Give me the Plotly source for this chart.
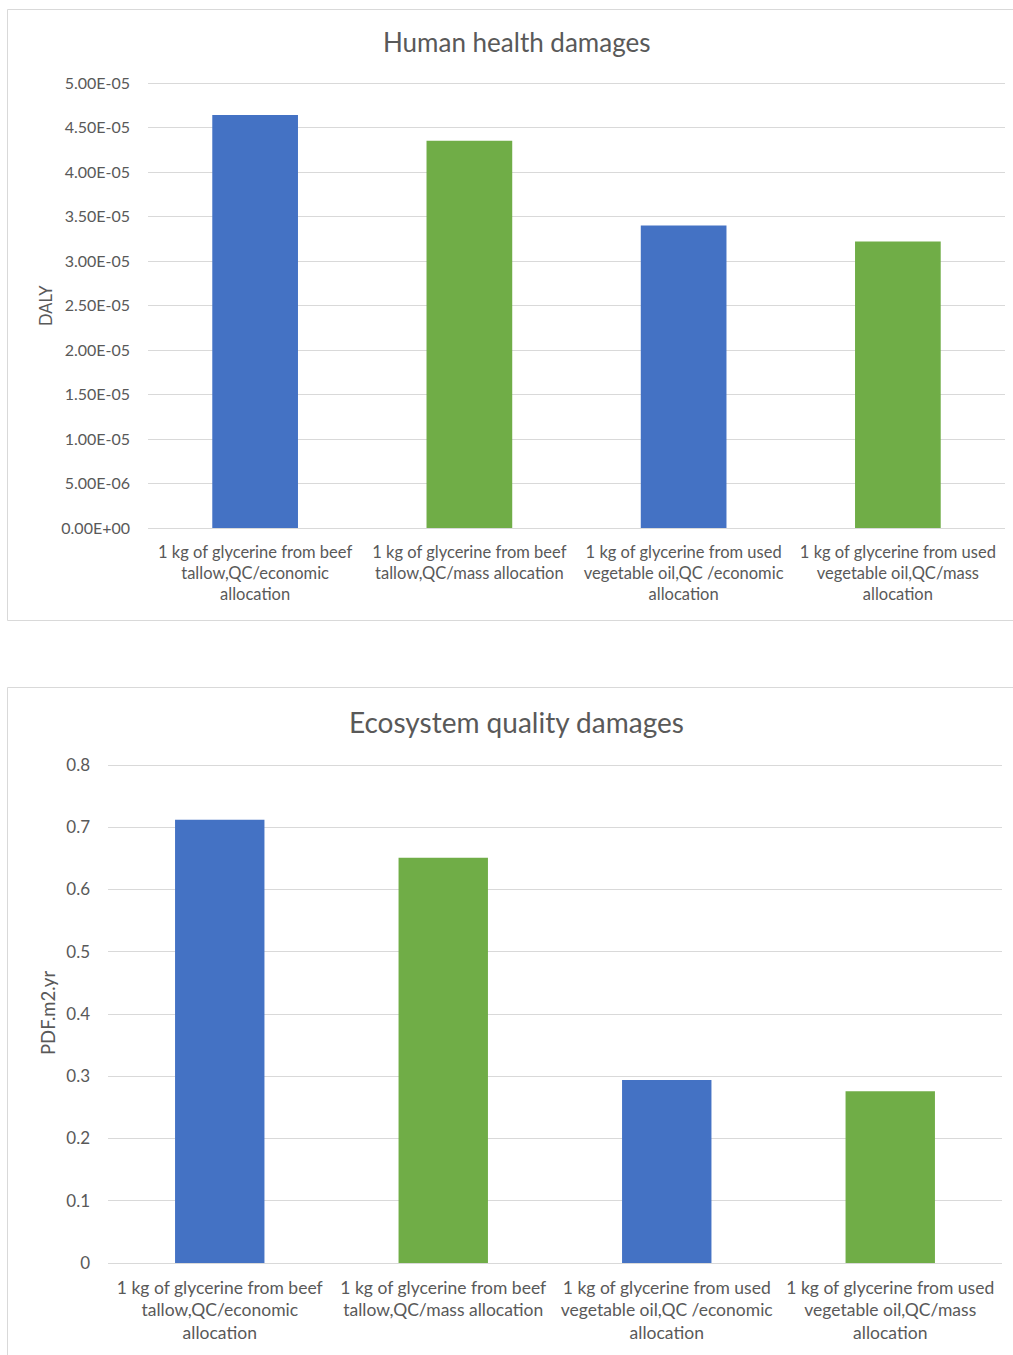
import plotly.graph_objects as go

# Categories (processes compared)
categories = [
    "1 kg of glycerine from beef<br>tallow,QC/economic<br>allocation",
    "1 kg of glycerine from beef<br>tallow,QC/mass allocation",
    "1 kg of glycerine from used<br>vegetable oil,QC /economic<br>allocation",
    "1 kg of glycerine from used<br>vegetable oil,QC/mass<br>allocation",
]
bar_colors = ["#4472C4", "#70AD47", "#4472C4", "#70AD47"]

# Human health damages (DALY)
human_health = [4.64e-05, 4.35e-05, 3.40e-05, 3.22e-05]
hh_ticks = [0, 5e-06, 1e-05, 1.5e-05, 2e-05, 2.5e-05, 3e-05, 3.5e-05, 4e-05, 4.5e-05, 5e-05]

# Ecosystem quality damages (PDF.m2.yr)
ecosystem = [0.712, 0.651, 0.294, 0.276]
eq_ticks = [0, 0.1, 0.2, 0.3, 0.4, 0.5, 0.6, 0.7, 0.8]

W, H = 1013, 1355
TXT = "#595959"
GRID = "#d9d9d9"
FONT = "Lato, 'Open Sans', sans-serif"
HEAD = 1.01  # headroom above the last tick so its gridline is drawn


def fx(x):
    return x / W


def fy(y):
    return 1 - y / H


# pixel rows of the zero line and of the top tick for each chart
hh_zero, hh_last = 528, 83
eq_zero, eq_last = 1263, 765
hh_dom_top = hh_zero - (hh_zero - hh_last) * HEAD
eq_dom_top = eq_zero - (eq_zero - eq_last) * HEAD

fig = go.Figure()

fig.add_trace(go.Bar(
    x=[0, 1, 2, 3], y=human_health, marker=dict(color=bar_colors, line=dict(width=0)),
    xaxis="x", yaxis="y", showlegend=False,
))
fig.add_trace(go.Bar(
    x=[0, 1, 2, 3], y=ecosystem, marker=dict(color=bar_colors, line=dict(width=0)),
    xaxis="x2", yaxis="y2", showlegend=False,
))

common_x = dict(
    type="linear", range=[-0.5, 3.5], tickmode="array", tickvals=[0, 1, 2, 3],
    ticktext=categories, showgrid=False, zeroline=False, showline=False,
    ticks="", automargin=False,
)

fig.update_layout(
    width=W, height=H,
    margin=dict(l=0, r=0, t=0, b=0, autoexpand=False),
    paper_bgcolor="white", plot_bgcolor="white",
    bargap=0.6,
    font=dict(family=FONT, color=TXT),
    xaxis=dict(common_x, domain=[fx(148), fx(1005)], anchor="y",
               tickfont=dict(family=FONT, color=TXT, size=16.5), ticklabelstandoff=12),
    yaxis=dict(domain=[fy(hh_zero), fy(hh_dom_top)], anchor="x",
               range=[0, hh_ticks[-1] * HEAD],
               tickmode="array", tickvals=hh_ticks,
               ticktext=[f"{v:.2E}" for v in hh_ticks],
               showgrid=True, gridcolor=GRID, gridwidth=1,
               zeroline=True, zerolinecolor=GRID, zerolinewidth=1,
               showline=False, ticks="", ticklabelstandoff=17, automargin=False,
               tickfont=dict(family=FONT, color=TXT, size=16)),
    xaxis2=dict(common_x, domain=[fx(108), fx(1002)], anchor="y2",
                tickfont=dict(family=FONT, color=TXT, size=17.5), ticklabelstandoff=12),
    yaxis2=dict(domain=[fy(eq_zero), fy(eq_dom_top)], anchor="x2",
                range=[0, eq_ticks[-1] * HEAD],
                tickmode="array", tickvals=eq_ticks,
                showgrid=True, gridcolor=GRID, gridwidth=1,
                zeroline=True, zerolinecolor=GRID, zerolinewidth=1,
                showline=False, ticks="", ticklabelstandoff=17, automargin=False,
                tickfont=dict(family=FONT, color=TXT, size=17)),
    shapes=[
        dict(type="rect", xref="paper", yref="paper",
             x0=fx(7.5), x1=1.01, y0=fy(620.5), y1=fy(9.5),
             line=dict(color=GRID, width=1), fillcolor="rgba(0,0,0,0)", layer="below"),
        dict(type="rect", xref="paper", yref="paper",
             x0=fx(7.5), x1=1.01, y0=-0.01, y1=fy(687.5),
             line=dict(color=GRID, width=1), fillcolor="rgba(0,0,0,0)", layer="below"),
    ],
    annotations=[
        dict(text="Human health damages", xref="paper", yref="paper",
             x=fx(516), y=fy(42), xanchor="center", yanchor="middle",
             showarrow=False, font=dict(family=FONT, size=26, color=TXT)),
        dict(text="Ecosystem quality damages", xref="paper", yref="paper",
             x=fx(516), y=fy(722), xanchor="center", yanchor="middle",
             showarrow=False, font=dict(family=FONT, size=28, color=TXT)),
        dict(text="DALY", xref="paper", yref="paper",
             x=fx(46), y=fy(306), xanchor="center", yanchor="middle", textangle=-90,
             showarrow=False, font=dict(family=FONT, size=16.5, color=TXT)),
        dict(text="PDF.m2.yr", xref="paper", yref="paper",
             x=fx(48), y=fy(1013), xanchor="center", yanchor="middle", textangle=-90,
             showarrow=False, font=dict(family=FONT, size=18.5, color=TXT)),
    ],
)

fig.write_html("out.html")
